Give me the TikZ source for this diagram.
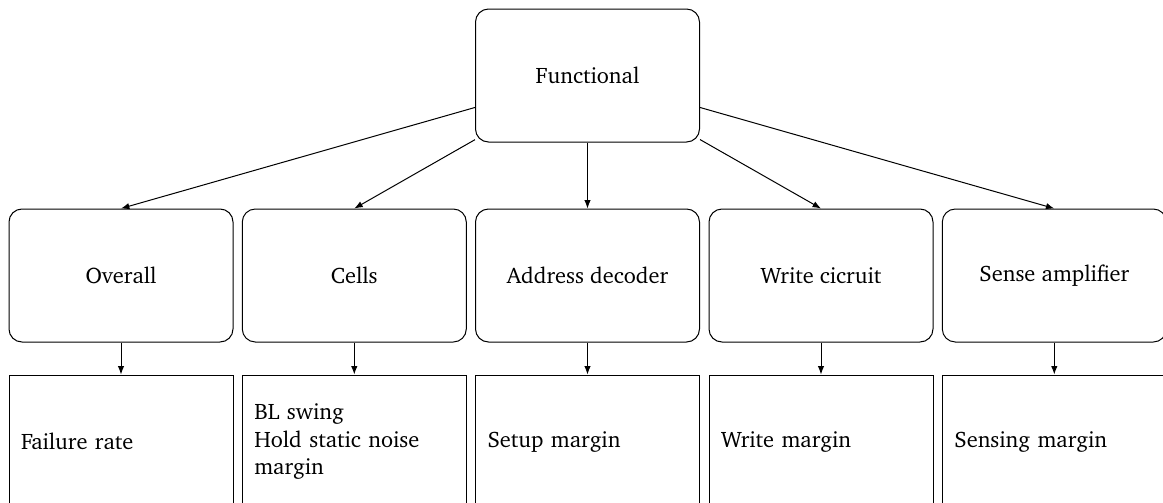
\documentclass[tikz,border=0pt]{standalone}
\usepackage[T1]{fontenc}
\usepackage{charter}
\usetikzlibrary{arrows.meta}

\tikzset{
  parent/.style={draw, rounded corners=6.5pt, minimum width=112pt, minimum height=66.5pt,
                 inner sep=4pt, align=center, font=\fontsize{11.2}{13.6}\selectfont},
  metric/.style={draw, minimum width=112pt, minimum height=66.5pt, inner sep=0pt,
                 text width=100pt, align=left, font=\fontsize{11.2}{13.6}\selectfont},
  link/.style={-{Latex[length=4.2pt,width=3.2pt]}},
}

\begin{document}
\begin{tikzpicture}[x=0.5pt, y=-0.5pt, line width=0.5pt]
  % page frame (boxes at the right and bottom run off the page)
  \useasboundingbox (0,0) rectangle (1163,503);
  \clip (0,0) rectangle (1163,503);

  % root
  \node[parent] (func) at (587.5,75.5) {Functional};

  % blocks
  \node[parent] (overall) at (121,275.5)    {Overall};
  \node[parent] (cells)   at (354.3,275.5)  {Cells};
  \node[parent] (addr)    at (587.5,275.5)  {Address decoder};
  \node[parent] (write)   at (821,275.5)    {Write cicruit};
  \node[parent] (sense)   at (1054.3,275.5) {Sense amplifier};

  % metrics
  \node[metric] (m1) at (121,441.5)    {Failure rate};
  \node[metric] (m2) at (354.3,441.5)  {BL swing\\Hold static noise margin};
  \node[metric] (m3) at (587.5,441.5)  {Setup margin};
  \node[metric] (m4) at (821,441.5)    {Write margin};
  \node[metric] (m5) at (1054.3,441.5) {Sensing margin};

  % root to blocks
  \foreach \b in {overall,cells,addr,write,sense}
    \draw[link] (func) -- (\b.north);

  % blocks to metrics
  \draw[link] (overall) -- (m1);
  \draw[link] (cells)   -- (m2);
  \draw[link] (addr)    -- (m3);
  \draw[link] (write)   -- (m4);
  \draw[link] (sense)   -- (m5);
\end{tikzpicture}
\end{document}
